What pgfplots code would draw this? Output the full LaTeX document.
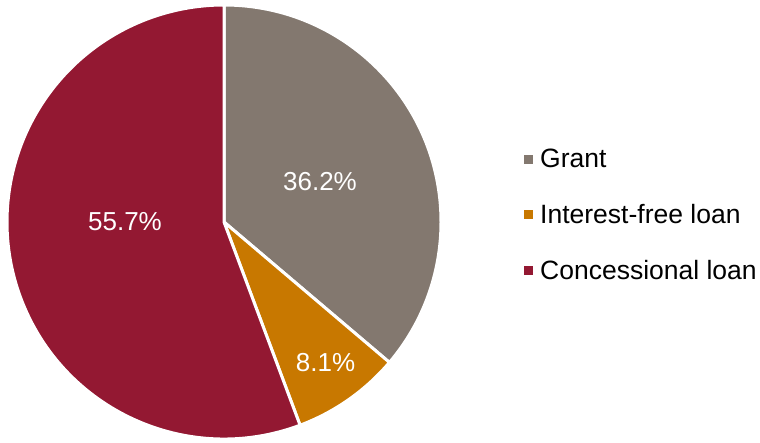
\documentclass[border=0pt]{standalone}
\usepackage{pgfplots}
\pgfplotsset{compat=1.18}
\usepackage{pgfplotstable}
\usepackage{fontspec}
\setmainfont{Liberation Sans}

\definecolor{grantc}{RGB}{131,120,111}
\definecolor{freec}{RGB}{200,120,0}
\definecolor{concc}{RGB}{147,24,50}

% share of each aid type (%)
\pgfplotstableread{
name value
Grant 36.2
Free 8.1
Concessional 55.7
}\aidtable

\pgfplotstablegetelem{0}{value}\of\aidtable \let\vA\pgfplotsretval
\pgfplotstablegetelem{1}{value}\of\aidtable \let\vB\pgfplotsretval
\pgfplotstablegetelem{2}{value}\of\aidtable \let\vC\pgfplotsretval

\begin{document}
\begin{tikzpicture}
\pgfmathsetmacro{\aA}{90}
\pgfmathsetmacro{\aB}{90-3.6*\vA}
\pgfmathsetmacro{\aC}{\aB-3.6*\vB}
\pgfmathsetmacro{\aD}{\aC-3.6*\vC}
\begin{axis}[
  at={(0,0)}, anchor=south west,
  x=1pt, y=1pt,
  xmin=0, xmax=760, ymin=0, ymax=442,
  hide axis, clip=false,
  legend style={draw=none, fill=none, inner sep=0pt,
    font=\fontsize{26.5}{32}\selectfont,
    at={(axis cs:524,227)}, anchor=west,
    row sep=31pt, cells={anchor=west},
    /tikz/every odd column/.append style={column sep=5pt}},
  legend image code/.code={\fill[#1, draw=none] (0pt,-4.5pt) rectangle (9pt,4.5pt);},
]
\fill[grantc, draw=white, line width=3pt] (axis cs:224,220) -- ++(\aA:217pt)
  arc[start angle=\aA, end angle=\aB, radius=217pt] -- cycle;
\fill[freec, draw=white, line width=3pt] (axis cs:224,220) -- ++(\aB:217pt)
  arc[start angle=\aB, end angle=\aC, radius=217pt] -- cycle;
\fill[concc, draw=white, line width=3pt] (axis cs:224,220) -- ++(\aC:217pt)
  arc[start angle=\aC, end angle=\aD, radius=217pt] -- cycle;

\begin{scope}[font=\fontsize{26}{30}\selectfont, text=white]
\node at (axis cs:320,260) {\vA\%};
\node at (axis cs:325.5,79) {\vB\%};
\node at (axis cs:125,220) {\vC\%};
\end{scope}

\addlegendimage{fill=grantc}
\addlegendentry{Grant}
\addlegendimage{fill=freec}
\addlegendentry{Interest-free loan}
\addlegendimage{fill=concc}
\addlegendentry{Concessional loan}
\end{axis}
\pgfresetboundingbox
\useasboundingbox (0,0) rectangle (760pt,442pt);
\end{tikzpicture}
\end{document}
